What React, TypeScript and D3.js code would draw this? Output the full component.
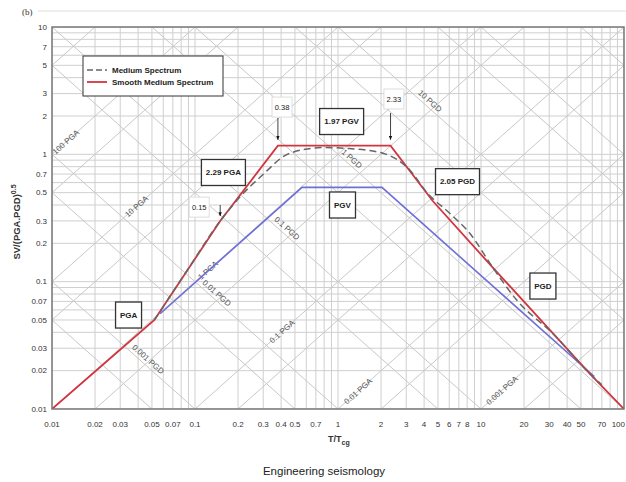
import React from 'react';
import * as d3 from 'd3';

// tick labels
const xTicks = [0.01, 0.02, 0.03, 0.05, 0.07, 0.1, 0.2, 0.3, 0.4, 0.5, 0.7, 1, 2, 3, 4, 5, 6, 7, 8, 10, 20, 30, 40, 50, 70, 100];
const yTicks = [10, 7, 5, 3, 2, 1, 0.7, 0.5, 0.3, 0.2, 0.1, 0.07, 0.05, 0.03, 0.02, 0.01];

// medium spectrum (dashed)
const mediumT = [0.052, 0.09, 0.15, 0.243, 0.285, 0.46, 0.79, 1.21, 2.06, 3.19, 4.19, 6.07, 8.37, 12.1, 17.9, 31.9, 57.8, 70];
const mediumSV = [0.05, 0.127, 0.3, 0.56, 0.66, 1.02, 1.13, 1.11, 1.02, 0.75, 0.5, 0.343, 0.239, 0.129, 0.071, 0.039, 0.0189, 0.0155];

// smooth medium spectrum (red)
const smoothT = [0.01, 0.052, 0.15, 0.38, 2.33, 4.6, 12.1, 57.8, 100];
const smoothSV = [0.01, 0.05, 0.3, 1.17, 1.17, 0.43, 0.129, 0.0189, 0.01];

// ground motion line (blue)
const groundT = [0.057, 0.56, 2.03, 62];
const groundSV = [0.056, 0.55, 0.55, 0.018];

// tripartite grid labels
const pgaLines = [100, 10, 1, 0.1, 0.01, 0.001];
const pgaLabelT = [0.0125, 0.039, 0.123, 0.406, 1.38, 14];
const pgdLines = [0.001, 0.01, 0.1, 1, 10];
const pgdLabelT = [0.047, 0.142, 0.44, 1.25, 4.4];
const gridMult = [1, 5];

// annotation boxes: text, centre (T, SV)
const boxText = ['2.29 PGA', '1.97 PGV', '2.05 PGD', 'PGV', 'PGA', 'PGD', '0.38', '2.33', '0.15'];
const boxT = [0.158, 1.06, 6.85, 1.075, 0.0343, 27.1, 0.406, 2.46, 0.107];
const boxSV = [0.72, 1.81, 0.61, 0.4, 0.0547, 0.0924, 2.35, 2.72, 0.385];
const boxStrong = [true, true, true, true, true, true, false, false, false];

const W = 626;
const H = 482;
const font = '"Liberation Sans", Arial, sans-serif';

const x = d3.scaleLog().domain([0.01, 100]).range([52, 624]);
const y = d3.scaleLog().domain([0.01, 10]).range([409, 27]);

const fmt = (v: number) => String(v);

export default function App() {
  const line = d3
    .line<[number, number]>()
    .x((d) => x(d[0]))
    .y((d) => y(d[1]));
  const smoothLine = d3
    .line<[number, number]>()
    .x((d) => x(d[0]))
    .y((d) => y(d[1]))
    .curve(d3.curveMonotoneX);

  const zip = (a: number[], b: number[]) => a.map((v, i) => [v, b[i]] as [number, number]);

  const exps = d3.range(-5, 5);
  const families: number[] = [];
  exps.forEach((e) => gridMult.forEach((m) => families.push(m * Math.pow(10, e))));

  const vGrid = x.ticks();
  const hGrid = y.ticks();

  // screen angle of a slope-1 line in log-log space
  const angle = (Math.atan2(y(1) - y(10), x(10) - x(1)) * 180) / Math.PI;

  const arrows = [
    { t: 0.38, y0: 118, y1: y(1.17) - 6 },
    { t: 2.33, y0: 113, y1: y(1.17) - 6 },
    { t: 0.15, y0: 205, y1: y(0.3) - 5 },
  ];

  return (
    <svg width={W} height={H} style={{ position: 'absolute', left: 0, top: 0, background: '#fff' }} fontFamily={font}>
      <defs>
        <clipPath id="plot">
          <rect x={52} y={27} width={572} height={382} />
        </clipPath>
        <marker id="arr" viewBox="0 0 10 10" refX="9" refY="5" markerWidth="5" markerHeight="5" orient="auto">
          <path d="M0,1 L10,5 L0,9 z" fill="#111" />
        </marker>
      </defs>

      {/* header */}
      <line x1={38} x2={626} y1={11} y2={11} stroke="#ddd" strokeWidth={1} />
      <text x={22} y={15} fontFamily="'Liberation Serif', serif" fontSize={9} fill="#333">(b)</text>

      <g clipPath="url(#plot)">
        {vGrid.map((v, i) => (
          <line key={'v' + i} x1={x(v)} x2={x(v)} y1={27} y2={409} stroke="#cfcfcf" strokeWidth={1} />
        ))}
        {hGrid.map((v, i) => (
          <line key={'h' + i} x1={52} x2={624} y1={y(v)} y2={y(v)} stroke="#cfcfcf" strokeWidth={1} />
        ))}
        {families.map((a, i) => (
          <line key={'a' + i} x1={x(0.001)} y1={y(a * 0.001)} x2={x(1000)} y2={y(a * 1000)} stroke="#c8c8c8" strokeWidth={1} />
        ))}
        {families.map((d, i) => (
          <line key={'d' + i} x1={x(0.001)} y1={y(d / 0.001)} x2={x(1000)} y2={y(d / 1000)} stroke="#c8c8c8" strokeWidth={1} />
        ))}

        {pgaLines.map((a, i) => (
          <text
            key={'pa' + i}
            transform={`translate(${x(pgaLabelT[i])},${y(a * pgaLabelT[i])}) rotate(${-angle})`}
            textAnchor="middle"
            dy="0.35em"
            fontSize={8}
            fill="#555"
          >
            {fmt(a)} PGA
          </text>
        ))}
        {pgdLines.map((d, i) => (
          <text
            key={'pd' + i}
            transform={`translate(${x(pgdLabelT[i])},${y(d / pgdLabelT[i]) - 8}) rotate(${angle})`}
            textAnchor="middle"
            dy="0.35em"
            fontSize={8}
            fill="#555"
          >
            {fmt(d)} PGD
          </text>
        ))}

        <path d={line(zip(groundT, groundSV)) || ''} fill="none" stroke="#6f6fd8" strokeWidth={1.6} />
        <path d={line(zip(smoothT, smoothSV)) || ''} fill="none" stroke="#d2353f" strokeWidth={1.8} />
        <path d={smoothLine(zip(mediumT, mediumSV)) || ''} fill="none" stroke="#666" strokeWidth={1.5} strokeDasharray="7,4" />
      </g>

      {/* frame */}
      <rect x={52} y={27} width={572} height={382} fill="none" stroke="#777" strokeWidth={1.5} />

      {/* ticks */}
      {xTicks.map((v, i) => {
        const last = i === xTicks.length - 1;
        return (
          <text
            key={'xt' + i}
            x={last ? W - 1 : x(v)}
            y={424}
            dy="0.35em"
            textAnchor={last ? 'end' : 'middle'}
            fontSize={8}
            fill="#333"
          >
            {fmt(v)}
          </text>
        );
      })}
      {yTicks.map((v, i) => (
        <text key={'yt' + i} x={47} y={y(v)} dy="0.35em" textAnchor="end" fontSize={8} fill="#333">
          {fmt(v)}
        </text>
      ))}

      {/* axis titles */}
      <text x={328} y={442} fontSize={9} fontWeight="bold" fill="#333">
        T/T<tspan fontSize={7} dy={3}>cg</tspan>
      </text>
      <text transform="translate(20,222) rotate(-90)" textAnchor="middle" fontSize={9.5} fontWeight="bold" fill="#333">
        SV/(PGA.PGD)<tspan fontSize={7} dy={-4}>0.5</tspan>
      </text>

      {/* legend */}
      <rect x={83} y={56} width={140} height={40} fill="#fff" stroke="#333" strokeWidth={1} />
      <line x1={87} x2={107} y1={70} y2={70} stroke="#666" strokeWidth={1.5} strokeDasharray="6,3" />
      <text x={112} y={70} dy="0.35em" fontSize={8} fontWeight="bold" fill="#222">Medium Spectrum</text>
      <line x1={87} x2={107} y1={82} y2={82} stroke="#d2353f" strokeWidth={1.8} />
      <text x={112} y={82} dy="0.35em" fontSize={8} fontWeight="bold" fill="#222">Smooth Medium Spectrum</text>

      {/* annotation arrows */}
      {arrows.map((a, i) => (
        <line key={'ar' + i} x1={x(a.t)} x2={x(a.t)} y1={a.y0} y2={a.y1} stroke="#111" strokeWidth={0.8} markerEnd="url(#arr)" />
      ))}

      {/* annotation boxes */}
      {boxText.map((t, i) => {
        const strong = boxStrong[i];
        const w = strong ? (t.length > 3 ? 44 : 26) : 20;
        const h = strong ? 26 : 20;
        const cx = x(boxT[i]);
        const cy = y(boxSV[i]);
        return (
          <g key={'b' + i}>
            <rect x={cx - w / 2} y={cy - h / 2} width={w} height={h} fill="#fff" stroke={strong ? '#333' : '#ddd'} strokeWidth={strong ? 1.3 : 1} />
            <text x={cx} y={cy} dy="0.35em" textAnchor="middle" fontSize={strong ? 8 : 7.5} fontWeight={strong ? 'bold' : 'normal'} fill="#222">
              {t}
            </text>
          </g>
        );
      })}

      {/* caption */}
      <text x={324} y={471} dy="0.35em" textAnchor="middle" fontSize={11.5} fill="#222">Engineering seismology</text>
    </svg>
  );
}
